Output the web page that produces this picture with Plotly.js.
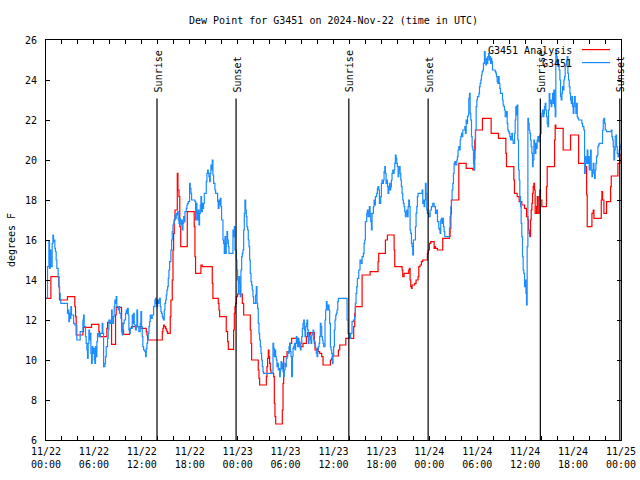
<!DOCTYPE html>
<html>
<head>
<meta charset="utf-8">
<script src="https://cdn.plot.ly/plotly-3.0.1.min.js"></script>
<style>html,body{margin:0;padding:0;background:#fff;}#chart{width:640px;height:480px;}</style>
</head>
<body>
<div id="chart"></div>
<script>
// ---- data (hours after 2024-11-22 00:00 UTC, dew point in deg F) ----
const startDate = "2024-11-22 00:00";
const analysisHours = [0,0.61,1.61,1.69,2.69,3.61,3.70,3.78,4.62,4.70,5.70,6.62,6.70,7.62,7.71,8.21,8.71,8.79,9.46,9.63,9.71,10.46,10.55,10.71,11.88,12.55,12.64,12.72,14.56,14.64,14.72,14.81,14.98,15.06,15.14,15.23,15.56,15.64,15.81,15.90,15.98,16.06,16.15,16.31,16.44,16.52,16.65,16.75,16.87,17.69,18.56,18.65,18.73,19.40,19.57,20.82,20.90,21.57,21.66,21.74,22.57,22.74,22.83,23.49,23.58,23.66,23.74,23.83,23.99,24.58,24.75,25.58,25.67,25.75,26.58,26.67,26.75,27.59,27.67,27.75,27.84,27.92,28.0,28.09,28.17,28.51,28.59,28.67,28.76,29.59,29.68,29.76,30.18,30.51,30.76,31.51,31.60,31.76,32.18,32.60,32.77,32.93,33.10,33.60,33.69,33.94,34.10,34.27,34.52,34.69,35.61,35.77,35.86,36.61,36.78,37.54,38.53,38.66,38.74,39.58,40.58,41.58,41.66,42.50,42.75,43.59,43.67,44.59,44.67,44.84,45.42,45.51,45.59,45.67,45.76,45.84,46.17,46.34,46.59,46.68,46.84,47.01,47.18,47.76,47.85,48.01,48.18,48.60,48.68,48.77,49.02,49.68,50.52,50.60,50.69,50.77,51.69,52.61,53.44,53.61,53.69,53.78,54.65,55.74,56.66,57.58,57.66,58.58,58.66,59.0,59.25,59.58,59.92,60.17,60.34,60.42,60.5,60.59,60.67,60.75,60.84,60.92,61.0,61.09,61.17,61.25,61.42,61.51,61.59,61.76,61.84,61.92,62.09,62.67,62.76,63.68,63.76,63.84,64.76,65.68,66.69,67.52,67.69,67.77,68.36,68.52,68.61,69.53,69.61,69.69,69.86,70.19,70.70,70.78,71.61,71.86,72.0];
const analysisValues = [13.08,14.17,13.67,13.0,13.17,12.67,12.17,11.25,11.42,11.63,11.78,11.42,11.17,11.58,11.88,10.78,12.25,12.63,11.83,11.5,11.28,11.5,11.58,11.67,11.58,11.42,11.25,11.0,11.42,11.58,11.75,11.67,11.58,11.5,11.42,11.33,12.17,13.0,14.0,15.5,16.33,17.0,17.5,17.5,19.33,18.5,18.17,16.67,15.67,17.42,16.67,15.17,14.33,14.75,14.67,13.83,13.08,12.83,12.5,12.17,11.42,10.92,10.53,11.5,12.33,12.67,12.83,13.17,13.3,12.83,12.25,11.5,10.83,10.0,9.5,9.08,8.75,9.17,9.67,10.08,10.5,10.17,9.83,9.5,9.33,9.17,7.83,7.17,6.8,7.5,8.83,10.17,10.42,10.83,11.08,10.83,10.92,10.67,10.83,11.17,11.37,11.25,11.37,10.83,10.5,10.58,10.42,10.33,10.17,9.75,10.0,10.08,10.2,10.5,10.75,11.08,11.67,12.33,12.67,14.25,14.42,14.92,15.33,16.0,16.25,15.5,14.67,14.5,14.17,14.33,14.5,14.58,14.0,13.67,13.58,13.75,13.83,14.0,14.17,14.67,14.75,14.92,15.0,15.33,15.5,15.83,15.92,15.58,15.67,15.58,15.5,16.08,16.17,16.58,17.33,18.0,19.83,19.58,19.5,20.08,21.0,21.5,22.08,21.33,21.08,20.33,19.67,19.0,18.33,18.17,17.92,17.75,17.58,17.17,17.0,16.5,16.33,16.17,17.0,17.5,17.83,18.33,18.67,18.83,18.5,17.33,17.67,18.17,17.33,18.17,18.5,18.0,17.67,18.67,19.67,21.0,21.75,21.58,20.5,21.25,19.83,19.67,18.25,16.67,17.33,17.5,17.08,18.0,18.42,18.0,17.33,17.92,18.67,19.2,19.83,20.25,20.33];

const stationHours = [0,0.19,0.36,0.44,0.52,0.61,0.77,0.86,0.94,1.02,1.11,1.19,1.27,1.36,1.52,1.61,1.69,1.78,1.86,2.69,2.78,2.86,2.94,3.03,3.11,3.19,3.45,3.61,3.86,4.28,4.62,4.70,4.78,4.95,5.03,5.12,5.20,5.28,5.37,5.45,5.53,5.62,5.70,5.79,5.87,5.95,6.04,6.12,6.20,6.29,6.37,6.45,6.62,6.79,7.04,7.12,7.21,7.37,7.45,7.54,7.71,7.79,7.87,8.04,8.21,8.29,8.37,8.46,8.54,8.62,8.71,8.79,8.87,9.04,9.12,9.21,9.38,9.46,9.54,9.63,9.79,9.96,10.05,10.13,10.21,10.30,10.38,10.46,10.55,10.80,10.88,10.96,11.05,11.21,11.30,11.38,11.47,11.63,11.80,11.88,11.97,12.05,12.13,12.22,12.38,12.47,12.55,12.64,12.72,12.80,12.89,12.97,13.05,13.14,13.30,13.47,13.64,13.72,13.80,13.89,13.97,14.05,14.14,14.22,14.31,14.39,14.47,14.56,14.64,14.72,14.81,14.89,14.98,15.06,15.14,15.23,15.31,15.39,15.48,15.64,15.73,15.81,15.90,15.98,16.06,16.15,16.23,16.31,16.40,16.48,16.56,16.65,16.73,16.82,16.90,16.98,17.07,17.15,17.24,17.32,17.40,17.57,17.65,17.74,17.82,17.98,18.06,18.15,18.23,18.65,18.73,18.82,18.90,18.98,19.07,19.15,19.23,19.32,19.40,19.48,19.57,19.65,19.73,19.82,20.07,20.15,20.24,20.32,20.40,20.49,20.57,20.65,20.74,20.82,20.90,20.99,21.15,21.24,21.49,21.57,21.66,21.74,21.82,21.91,21.99,22.16,22.24,22.32,22.41,22.49,22.57,22.66,22.74,22.83,22.91,23.41,23.49,23.58,23.66,23.83,23.91,23.99,24.08,24.16,24.25,24.33,24.41,24.50,24.58,24.66,24.75,24.83,24.91,25.0,25.08,25.16,25.25,25.33,25.42,25.50,25.58,25.67,25.75,25.83,25.92,26.00,26.25,26.33,26.42,26.50,26.58,26.67,26.75,26.84,26.92,27.0,27.09,27.17,27.25,28.42,28.51,28.59,28.67,28.76,28.84,28.92,29.01,29.09,29.17,29.26,29.34,29.43,29.51,29.59,29.68,29.76,29.84,29.93,30.01,30.09,30.18,30.26,30.34,30.43,30.51,30.59,30.68,30.76,30.85,30.93,31.01,31.10,31.18,31.26,31.35,31.43,31.51,31.60,31.68,31.76,31.85,31.93,32.02,32.10,32.18,32.27,32.35,32.43,32.52,32.60,32.68,32.77,32.85,32.93,33.02,33.10,33.18,33.27,33.35,33.44,33.52,33.60,33.69,33.77,33.85,33.94,34.02,34.10,34.19,34.27,34.35,34.44,34.52,34.61,34.69,34.77,34.94,35.02,35.11,35.19,35.27,35.36,35.44,35.52,35.61,35.69,35.77,35.86,35.94,36.02,36.11,36.19,36.28,36.36,36.44,36.53,36.61,37.70,37.82,37.99,38.15,38.32,38.49,38.66,38.74,38.82,38.91,38.99,39.16,39.32,39.49,39.58,39.74,39.83,39.91,39.99,40.16,40.24,40.33,40.49,40.58,40.66,40.75,40.83,41.0,41.08,41.16,41.25,41.41,41.50,41.58,41.66,41.75,41.91,42.0,42.08,42.17,42.25,42.33,42.42,42.5,42.58,42.67,42.75,42.83,42.92,43.0,43.08,43.17,43.25,43.33,43.42,43.5,43.59,43.67,43.75,43.84,43.92,44.0,44.09,44.17,44.25,44.34,44.42,44.5,44.59,44.67,44.75,44.84,44.92,45.0,45.09,45.17,45.26,45.34,45.42,45.51,45.59,45.67,45.76,45.84,45.92,46.01,46.26,46.34,46.43,46.51,46.59,47.09,47.18,47.26,47.34,47.43,47.51,47.6,47.68,47.76,47.93,48.1,48.26,48.43,48.6,48.77,48.93,49.02,49.18,49.27,49.35,49.43,49.52,49.6,49.68,49.77,49.85,49.93,50.52,50.6,50.69,50.77,50.85,50.94,51.02,51.1,51.19,51.27,51.44,51.52,51.6,51.69,51.77,51.86,51.94,52.02,52.11,52.19,52.36,52.44,52.52,52.61,52.69,52.78,52.86,52.94,53.03,53.11,53.19,53.28,53.36,53.44,53.53,53.61,53.69,53.78,53.86,53.95,54.03,54.2,54.28,54.36,54.45,54.53,54.61,54.7,54.78,54.9,54.99,55.07,55.16,55.24,55.32,55.41,55.49,55.57,55.66,55.74,55.82,55.91,56.24,56.33,56.41,56.49,56.58,56.66,56.74,56.83,56.91,57.16,57.24,57.33,57.41,57.5,57.66,57.75,57.83,57.91,58.0,58.08,58.16,58.25,58.33,58.41,58.5,58.67,58.75,58.83,58.92,59.0,59.08,59.17,59.25,59.33,59.42,59.5,59.58,59.67,59.75,59.83,59.92,60.0,60.09,60.17,60.25,60.34,60.42,60.5,60.59,60.67,60.75,60.84,60.92,61.0,61.09,61.17,61.25,61.34,61.42,61.5,61.59,61.67,61.76,61.84,61.92,62.01,62.09,62.17,62.26,62.34,62.42,62.51,62.59,62.68,62.76,62.84,62.93,63.01,63.09,63.18,63.26,63.34,63.43,63.51,63.59,63.68,63.76,63.84,63.93,64.01,64.1,64.18,64.26,64.35,64.43,64.51,64.6,64.68,64.76,64.85,64.93,65.01,65.1,65.18,65.26,65.35,65.43,65.52,65.6,65.68,65.77,65.85,65.93,66.02,66.1,66.18,66.27,66.35,66.44,66.52,66.6,66.69,67.1,67.19,67.35,67.44,67.52,67.6,67.69,67.77,67.85,67.94,68.02,68.11,68.19,68.27,68.36,68.44,68.52,68.61,68.69,68.77,68.86,68.94,69.02,69.11,69.19,69.27,69.69,69.78,69.86,69.95,70.03,70.19,70.78,70.86,70.95,71.03,71.11,71.2,71.28,71.37,71.45,71.53,71.62,71.7,71.78,71.87,72.0];
const stationValues = [13.1,14.67,15.92,14.58,15.5,14.67,15.83,16.25,15.92,16.0,15.58,15.42,15.0,14.58,14.17,13.67,13.33,13.0,12.83,12.33,12.5,11.92,12.33,12.08,12.67,12.25,11.83,11.75,11.0,11.42,12.0,12.25,11.67,11.17,10.83,10.5,10.08,10.83,11.5,11.0,11.33,10.33,9.83,10.67,10.33,10.58,10.0,9.83,10.67,10.17,10.92,11.33,11.17,11.33,11.83,11.33,9.67,9.83,10.17,10.67,11.08,11.5,12.0,11.83,12.5,12.17,11.83,12.17,12.67,13.0,12.83,13.17,12.67,12.5,12.67,12.33,12.08,11.42,11.25,11.83,12.0,12.33,12.5,12.33,12.58,12.25,11.5,11.33,11.58,12.25,11.83,12.33,11.75,11.5,11.75,12.5,11.67,11.42,11.83,12.42,11.67,11.17,10.67,10.5,10.42,10.17,10.58,10.83,11.0,11.33,11.67,11.92,12.25,12.08,12.25,12.67,13.0,13.08,12.83,12.67,13.0,12.83,13.0,13.08,12.67,12.42,12.33,12.17,12.08,12.0,12.5,12.83,13.0,13.25,13.5,13.67,14.08,14.5,14.92,15.5,16.0,16.42,16.75,16.83,17.0,17.25,17.08,17.33,17.25,17.42,17.0,16.83,17.08,17.0,16.75,17.0,16.5,16.83,17.17,16.92,17.42,17.58,17.75,17.83,17.92,18.83,18.58,18.33,18.0,17.92,17.0,17.83,17.42,17.0,17.5,16.75,17.33,17.75,18.17,17.42,17.83,17.58,17.83,18.33,18.92,19.33,19.5,19.33,19.17,18.92,19.33,19.75,19.5,20.0,19.25,18.83,18.5,18.33,17.92,17.58,18.0,17.75,18.08,17.67,17.0,16.0,15.83,15.33,16.17,15.33,15.83,16.42,16.0,15.67,15.33,16.5,16.17,16.67,15.5,15.0,14.5,14.0,13.33,14.17,13.83,13.17,14.5,15.17,15.33,15.5,16.5,17.33,18.0,17.5,17.17,16.67,16.5,16.0,15.67,15.0,14.33,13.92,13.75,13.5,13.17,12.83,13.25,13.67,12.83,12.58,11.83,11.33,11.0,10.67,10.33,10.0,9.67,9.42,9.33,10.83,10.58,10.17,10.5,10.17,10.0,9.67,9.83,9.5,9.58,9.17,9.5,9.92,9.58,9.83,9.42,9.17,9.5,9.83,9.67,10.08,10.17,10.42,10.33,10.67,10.83,10.42,10.17,9.17,10.17,10.58,10.67,10.83,10.5,10.83,11.17,10.83,10.67,11.08,10.92,10.67,10.5,10.83,11.17,11.58,11.83,12.0,11.5,11.17,11.67,11.83,12.0,11.5,10.83,11.25,11.17,11.0,10.83,11.25,11.33,11.5,11.0,10.92,10.67,10.5,10.33,10.17,10.5,10.67,10.83,11.17,11.83,11.67,11.17,11.0,10.83,10.67,12.0,12.5,12.92,12.75,12.5,12.75,12.5,11.83,10.67,10.5,10.33,9.83,10.25,10.67,11.5,12.0,12.25,12.33,12.5,12.92,13.08,12.0,11.33,11.08,11.33,11.92,12.0,12.17,12.83,13.33,13.67,14.08,14.5,15.0,14.83,15.17,15.33,15.83,16.0,16.92,17.33,17.5,17.17,17.67,17.33,16.92,16.5,17.33,17.67,18.0,17.75,18.17,18.33,18.58,18.67,18.5,17.83,18.17,18.83,19.0,18.83,19.0,19.42,19.67,19.33,18.83,19.0,18.67,18.33,18.67,18.83,18.5,18.67,19.0,19.33,19.5,19.33,19.5,19.83,20.25,20.08,19.83,19.67,19.17,19.5,19.67,19.33,19.0,18.67,18.33,18.0,17.83,17.67,17.42,17.17,17.33,17.5,17.17,17.67,18.0,17.67,16.5,16.33,15.83,15.67,15.25,16.0,16.67,17.33,17.67,18.17,18.33,18.5,17.83,18.0,17.67,18.0,18.83,18.33,17.5,17.33,17.17,17.5,17.67,17.83,17.67,17.33,17.5,16.92,16.58,16.5,16.33,17.0,17.08,16.83,17.08,16.67,16.42,16.17,16.58,17.17,17.67,18.0,18.5,18.83,19.33,19.83,19.92,19.75,20.0,20.17,20.5,20.67,20.5,21.0,21.17,21.33,21.17,21.5,21.5,21.67,21.33,22.0,21.83,22.17,22.25,23.08,23.33,22.33,22.0,21.17,20.67,20.5,19.83,19.5,20.5,21.5,22.67,23.0,23.17,23.33,23.67,23.83,24.0,24.25,24.42,24.5,24.83,25.42,25.0,24.75,25.08,24.83,25.17,25.33,25.0,25.17,24.83,25.08,24.92,24.5,24.42,24.33,24.17,23.92,23.83,24.17,23.83,23.58,23.33,23.0,22.75,22.67,22.5,22.17,22.42,21.83,21.5,21.42,21.33,21.17,21.0,21.17,21.33,21.0,20.83,21.33,22.0,22.67,22.25,22.75,21.0,19.5,19.0,18.17,17.67,16.83,16.17,15.17,14.5,14.33,13.67,14.0,13.33,12.75,15.67,22.08,21.83,21.5,21.33,21.0,20.67,20.33,19.67,20.0,21.0,20.83,20.33,20.83,20.58,21.0,21.17,20.92,21.17,21.25,21.33,22.17,22.33,22.5,22.17,22.33,22.67,22.83,22.5,22.17,21.83,21.67,22.5,23.33,23.0,22.83,22.67,23.0,23.33,22.83,23.5,22.67,22.17,25.5,25.17,24.83,25.0,24.75,24.5,24.0,23.17,23.0,23.33,23.67,23.5,24.0,24.17,24.67,24.75,25.0,25.17,24.33,24.0,23.67,23.33,23.0,22.83,23.17,22.67,22.33,22.83,23.17,22.67,22.33,22.83,22.17,22.08,22.0,21.83,21.67,21.5,19.33,20.17,20.0,19.83,20.5,19.83,20.17,19.5,20.0,20.5,19.5,19.17,19.5,19.83,19.33,19.08,19.5,19.83,20.17,20.25,20.67,20.75,20.83,21.5,22.0,22.08,21.83,21.5,21.42,21.5,21.17,21.0,20.67,20.0,20.5,21.17,21.25,20.67,20.33,20.17,20.33,20.5,20.67,20.83,20.92];

const sunriseHours = [13.9, 37.92, 61.9];
const sunsetHours = [23.8, 47.85, 71.85];
const tickHours = [0,6,12,18,24,30,36,42,48,54,60,66,72];
const tickLabels = ["11/22<br>00:00","11/22<br>06:00","11/22<br>12:00","11/22<br>18:00",
                    "11/23<br>00:00","11/23<br>06:00","11/23<br>12:00","11/23<br>18:00",
                    "11/24<br>00:00","11/24<br>06:00","11/24<br>12:00","11/24<br>18:00",
                    "11/25<br>00:00"];
const seriesNames = ["G3451 Analysis", "G3451"];
const seriesColors = ["#ff0000", "#1a8cff"];

// ---- helpers ----
const startMs = Date.parse(startDate.replace(' ', 'T') + ':00Z');
function toDate(h) {
  const d = new Date(startMs + Math.round(h * 3600000));
  return d.toISOString().slice(0, 19).replace('T', ' ');
}

const FONT = "DejaVu Sans Mono, Liberation Mono, monospace";

// x ticks every 2 h, labels every 6 h
const xTickVals = [], xTickText = [];
for (let h = 0; h <= 72; h += 2) {
  xTickVals.push(toDate(h));
  const idx = tickHours.indexOf(h);
  xTickText.push(idx >= 0 ? tickLabels[idx] : "");
}

const traces = [
  { x: analysisHours.map(toDate), y: analysisValues, type: 'scatter', mode: 'lines',
    line: { color: seriesColors[0], width: 1.2, shape: 'hv' }, name: seriesNames[0] },
  { x: stationHours.map(toDate), y: stationValues, type: 'scatter', mode: 'lines',
    line: { color: seriesColors[1], width: 1.2, shape: 'hv' }, name: seriesNames[1] }
];

const lineTop = 23.08;
const shapes = [], annotations = [];
function addEvent(h, label) {
  shapes.push({ type: 'line', xref: 'x', yref: 'y', x0: toDate(h), x1: toDate(h), y0: 6, y1: lineTop,
                line: { color: 'black', width: 1.2 }, layer: 'above' });
  annotations.push({ x: toDate(h), y: lineTop, xref: 'x', yref: 'y', text: label, textangle: -90,
                     showarrow: false, xanchor: 'center', yanchor: 'bottom', yshift: 4, xshift: 1,
                     font: { family: FONT, size: 10, color: 'black' } });
}
sunriseHours.forEach(h => addEvent(h, 'Sunrise'));
sunsetHours.forEach(h => addEvent(h, 'Sunset'));

// legend drawn gnuplot-style (text right, sample line to the right of it)
const legendRows = [0.975, 0.9425];
seriesNames.forEach((n, i) => {
  annotations.push({ xref: 'paper', yref: 'paper', x: 0.9183, y: legendRows[i], text: n,
                     showarrow: false, xanchor: 'right', yanchor: 'middle',
                     font: { family: FONT, size: 10, color: 'black' } });
  shapes.push({ type: 'line', xref: 'paper', yref: 'paper', x0: 0.9322, x1: 0.9809,
                y0: legendRows[i] + 0.001, y1: legendRows[i] + 0.001,
                line: { color: seriesColors[i], width: 1.2 } });
});

const layout = {
  width: 640, height: 480,
  margin: { l: 46, r: 19, t: 40, b: 40, pad: 0 },
  paper_bgcolor: 'white', plot_bgcolor: 'white',
  font: { family: FONT, size: 10, color: 'black' },
  showlegend: false,
  title: { text: 'Dew Point for G3451 on 2024-Nov-22 (time in UTC)',
           font: { family: FONT, size: 10, color: 'black' },
           x: 0.5, xref: 'paper', xanchor: 'center', y: 1 - 20 / 480, yref: 'container', yanchor: 'middle' },
  xaxis: {
    type: 'date', range: [toDate(0), toDate(72)],
    tickmode: 'array', tickvals: xTickVals, ticktext: xTickText,
    ticks: 'inside', ticklen: 4, tickcolor: 'black', tickwidth: 1,
    showline: true, linecolor: 'black', linewidth: 1, mirror: 'ticks',
    showgrid: false, zeroline: false,
    tickfont: { family: FONT, size: 10, color: 'black' }, ticklabelstandoff: 2
  },
  yaxis: {
    range: [6, 26], tickmode: 'linear', tick0: 6, dtick: 2,
    ticks: 'inside', ticklen: 4, tickcolor: 'black', tickwidth: 1,
    showline: true, linecolor: 'black', linewidth: 1, mirror: 'ticks',
    showgrid: false, zeroline: false,
    tickfont: { family: FONT, size: 10, color: 'black' }, ticklabelstandoff: 6,
    title: { text: 'degrees F', font: { family: FONT, size: 10, color: 'black' }, standoff: 7 }
  },
  shapes: shapes,
  annotations: annotations
};

Plotly.newPlot('chart', traces, layout, { staticPlot: true, displayModeBar: false });
</script>
</body>
</html>
